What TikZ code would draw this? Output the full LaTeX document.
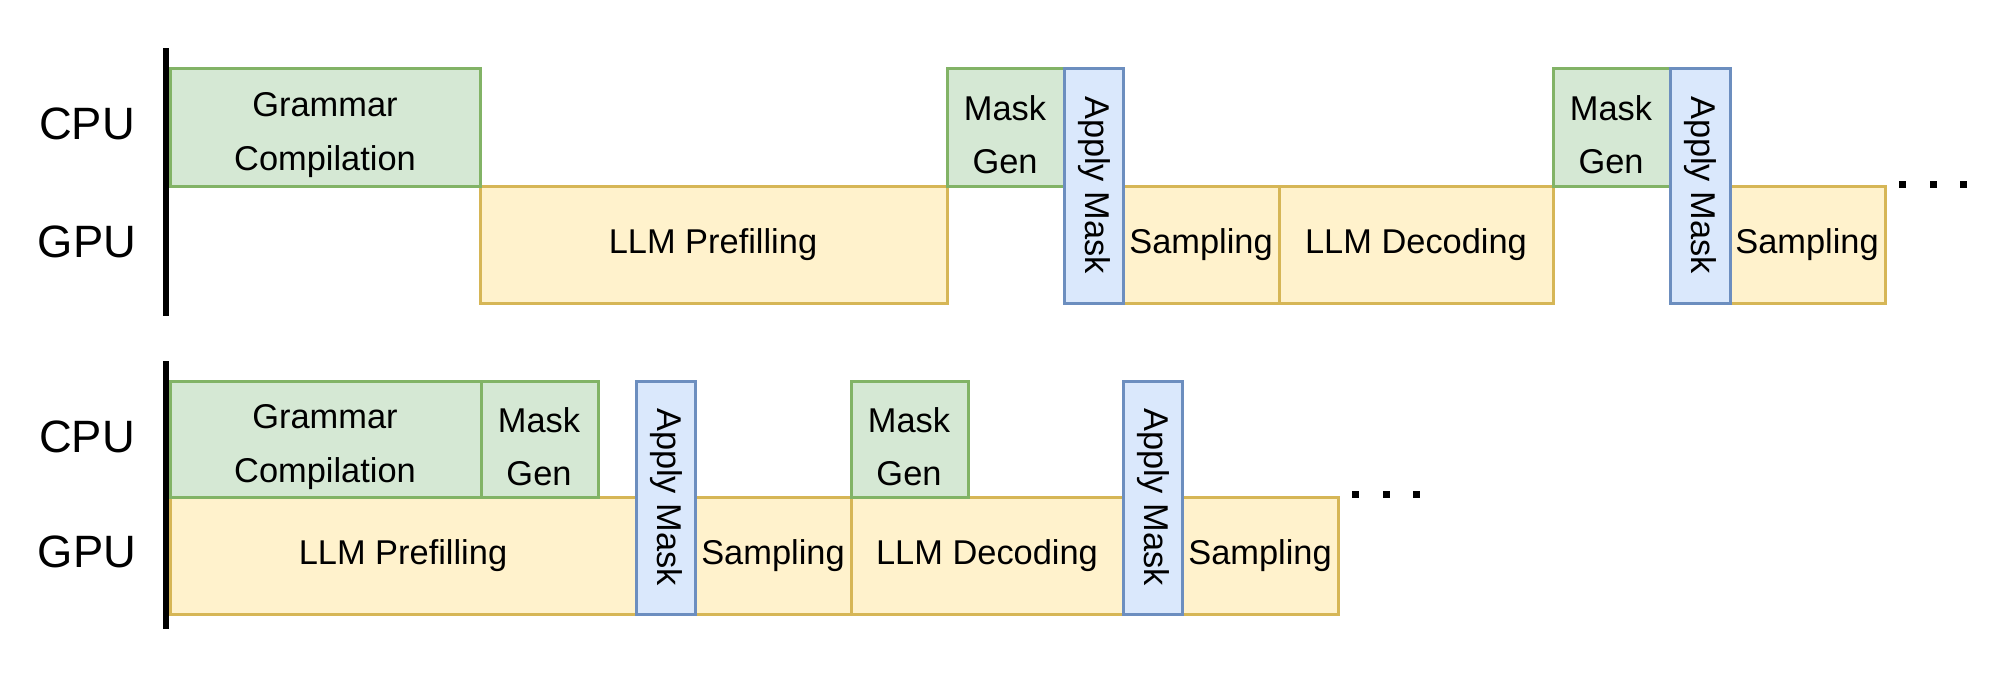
\documentclass[tikz,border=0pt]{standalone}
\usepackage{fontspec}
\setmainfont{Liberation Sans}
\usepackage{tikz}

\definecolor{cpufill}{RGB}{213,232,212}
\definecolor{cpuline}{RGB}{130,179,102}
\definecolor{gpufill}{RGB}{255,242,204}
\definecolor{gpuline}{RGB}{214,182,86}
\definecolor{maskfill}{RGB}{218,232,252}
\definecolor{maskline}{RGB}{108,142,191}

\begin{document}
\begin{tikzpicture}[x=0.75pt,y=0.75pt,yscale=-1,xscale=1,
  cpubox/.style={draw=cpuline,fill=cpufill,line width=2.25pt},
  gpubox/.style={draw=gpuline,fill=gpufill,line width=2.25pt},
  maskbox/.style={draw=maskline,fill=maskfill,line width=2.25pt},
  boxtext/.style={font=\fontsize{25.8}{40}\selectfont,align=center,inner sep=0pt},
  rowtext/.style={font=\fontsize{34}{40}\selectfont,inner sep=0pt},
  axis/.style={line width=4pt}]
\useasboundingbox (0,0) rectangle (1999,675);

%Top: axis and row labels
\draw[axis] (166,48) -- (166,316);
\node[rowtext] (cpuA) at (87,124) {CPU};
\node[rowtext] (gpuA) at (87,242) {GPU};

%Top: GPU row
\draw[gpubox] (480,186) rectangle (947,303);
\node[boxtext] (prefillA) at (713,245) {LLM Prefilling};
\draw[gpubox] (1123,186) rectangle (1279,303);
\node[boxtext] (sampleA) at (1201,245) {Sampling};
\draw[gpubox] (1279,186) rectangle (1553,303);
\node[boxtext] (decodeA) at (1416,245) {LLM Decoding};
\draw[gpubox] (1730,186) rectangle (1885,303);
\node[boxtext] (sampleB) at (1807,245) {Sampling};

%Top: CPU row
\draw[cpubox] (170,68) rectangle (480,186);
\node[boxtext] (compileA) at (325,135) {Grammar\\Compilation};
\draw[cpubox] (947,68) rectangle (1064,186);
\node[boxtext] (maskgenA) at (1005,135) {Mask\\Gen};
\draw[cpubox] (1553,68) rectangle (1670,186);
\node[boxtext] (maskgenB) at (1611,135) {Mask\\Gen};

%Top: apply mask
\draw[maskbox] (1064,68) rectangle (1123,303);
\node[boxtext,rotate=-90] (applyA) at (1094,185) {Apply Mask};
\draw[maskbox] (1670,68) rectangle (1730,303);
\node[boxtext,rotate=-90] (applyB) at (1700,185) {Apply Mask};

%Top: dots
\foreach \x in {1902,1933,1963}
  \fill (\x-3.5,181) rectangle ++(7,7);

%Bottom: axis and row labels
\draw[axis] (166,361) -- (166,629);
\node[rowtext] (cpuB) at (87,437) {CPU};
\node[rowtext] (gpuB) at (87,552) {GPU};

%Bottom: GPU row
\draw[gpubox] (170,497) rectangle (636,614);
\node[boxtext] (prefillB) at (403,556) {LLM Prefilling};
\draw[gpubox] (695,497) rectangle (851,614);
\node[boxtext] (sampleC) at (773,556) {Sampling};
\draw[gpubox] (851,497) rectangle (1123,614);
\node[boxtext] (decodeB) at (987,556) {LLM Decoding};
\draw[gpubox] (1182,497) rectangle (1338,614);
\node[boxtext] (sampleD) at (1260,556) {Sampling};

%Bottom: CPU row
\draw[cpubox] (170,381) rectangle (481,497);
\node[boxtext] (compileB) at (325,447) {Grammar\\Compilation};
\draw[cpubox] (481,381) rectangle (598,497);
\node[boxtext] (maskgenC) at (539,447) {Mask\\Gen};
\draw[cpubox] (851,381) rectangle (968,497);
\node[boxtext] (maskgenD) at (909,447) {Mask\\Gen};

%Bottom: apply mask
\draw[maskbox] (636,381) rectangle (695,614);
\node[boxtext,rotate=-90] (applyC) at (666,497) {Apply Mask};
\draw[maskbox] (1123,381) rectangle (1182,614);
\node[boxtext,rotate=-90] (applyD) at (1153,497) {Apply Mask};

%Bottom: dots
\foreach \x in {1355,1386,1416}
  \fill (\x-3.5,491) rectangle ++(7,7);

\end{tikzpicture}
\end{document}
